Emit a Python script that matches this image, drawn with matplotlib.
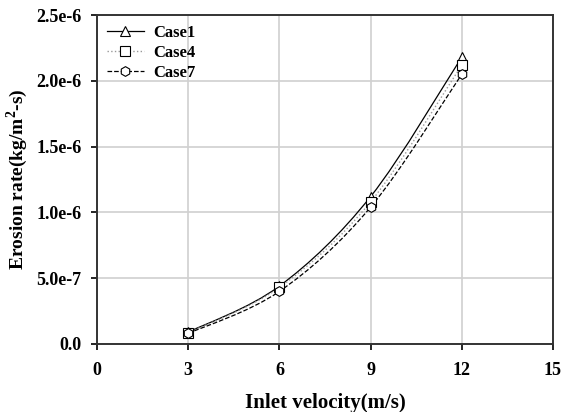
import matplotlib.pyplot as plt
import matplotlib as mpl
from matplotlib.path import Path
from matplotlib.patches import PathPatch
import numpy as np

# data
velocity = [3, 6, 9, 12]
case1 = [0.09e-6, 0.44e-6, 1.12e-6, 2.18e-6]
case4 = [0.085e-6, 0.43e-6, 1.08e-6, 2.12e-6]
case7 = [0.08e-6, 0.40e-6, 1.04e-6, 2.05e-6]

x_ticks = [0, 3, 6, 9, 12, 15]
y_ticks = [0.0, 0.5e-6, 1.0e-6, 1.5e-6, 2.0e-6, 2.5e-6]
y_labels = ['0.0', '5.0e-7', '1.0e-6', '1.5e-6', '2.0e-6', '2.5e-6']

mpl.rcParams.update({
    'font.family': 'Liberation Serif',
    'font.weight': 'bold',
    'font.size': 13,
    'mathtext.fontset': 'custom',
    'mathtext.rm': 'Liberation Serif',
    'mathtext.bf': 'Liberation Serif:bold',
})


def smooth_path(x, y):
    """Catmull-Rom curve through the points as cubic Bezier segments."""
    x = np.asarray(x, float)
    y = np.asarray(y, float)
    pts = np.column_stack([x, y])
    verts = [pts[0]]
    codes = [Path.MOVETO]
    n = len(pts)
    for i in range(n - 1):
        p0 = pts[i - 1] if i > 0 else pts[i]
        p1 = pts[i]
        p2 = pts[i + 1]
        p3 = pts[i + 2] if i + 2 < n else pts[i + 1]
        c1 = p1 + (p2 - p0) / 6.0
        c2 = p2 - (p3 - p1) / 6.0
        verts += [c1, c2, p2]
        codes += [Path.CURVE4] * 3
    return Path(verts, codes)


fig = plt.figure(figsize=(5.63, 4.12), dpi=100)
ax = fig.add_axes([97 / 563, 1 - 344 / 412, 456 / 563, 329 / 412])

styles = [
    ('Case1', case1, '^', '-', 'black', 0.9),
    ('Case4', case4, 's', ':', '#999999', 1.0),
    ('Case7', case7, 'h', '--', 'black', 0.9),
]

for label, vals, mk, ls, col, lw in styles:
    patch = PathPatch(smooth_path(velocity, vals), facecolor='none',
                      edgecolor=col, linestyle=ls, linewidth=lw, zorder=3)
    ax.add_patch(patch)
    ax.plot(velocity, vals, linestyle='none', marker=mk, markersize=7,
            markerfacecolor='white', markeredgecolor='black',
            markeredgewidth=0.8, zorder=4)
    # legend proxy
    ax.plot([], [], linestyle=ls, color=col, linewidth=lw, marker=mk,
            markersize=7, markerfacecolor='white', markeredgecolor='black',
            markeredgewidth=0.8, label=label)

ax.set_xlim(0, 15)
ax.set_ylim(0, 2.5e-6)
ax.set_xticks(x_ticks)
ax.set_yticks(y_ticks)
ax.set_yticklabels(y_labels)
ax.grid(True, color='#d0d0d0', linewidth=1.2)
ax.set_axisbelow(True)

for sp in ax.spines.values():
    sp.set_linewidth(1.4)
    sp.set_color('#333333')

ax.tick_params(direction='out', length=4, width=1.2, labelsize=13, pad=7)
ax.tick_params(axis='x', pad=9)

ax.set_xlabel('Inlet velocity(m/s)', fontsize=15, fontweight='bold', labelpad=10)
ax.set_ylabel('Erosion rate(kg/m$^{\\mathbf{2}}$-s)', fontsize=14,
              fontweight='bold', labelpad=5)

ax.legend(loc='upper left', frameon=False, fontsize=12, handlelength=2.2,
          handletextpad=0.6, borderaxespad=0.2, labelspacing=0.25,
          bbox_to_anchor=(0.0, 1.0))

fig.savefig('out.png', dpi=100)
